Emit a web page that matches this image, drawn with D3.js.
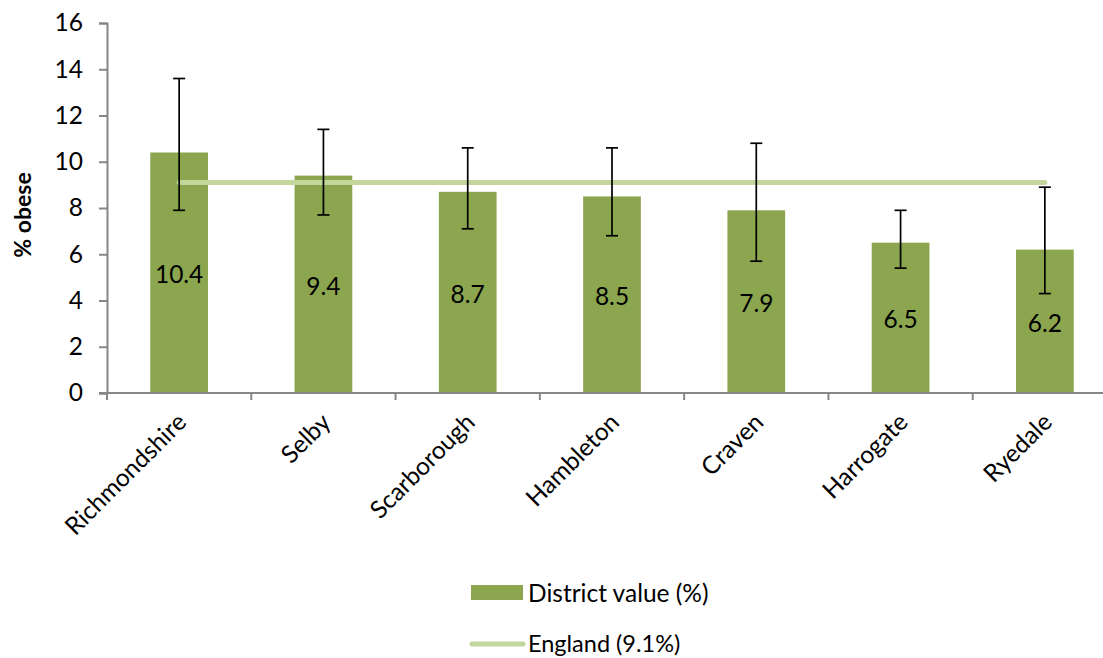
<!DOCTYPE html>
<html>
<head>
<meta charset="utf-8">
<script src="https://cdn.jsdelivr.net/npm/d3@7"></script>
<style>
  html, body { margin: 0; padding: 0; background: #fff; }
  svg text { font-family: Lato, "Open Sans", sans-serif; fill: #000; }
</style>
</head>
<body>
<svg id="chart" width="1103" height="658"></svg>
<script>
// Obesity prevalence by district, with 95% confidence intervals
const districts = ["Richmondshire", "Selby", "Scarborough", "Hambleton", "Craven", "Harrogate", "Ryedale"];
const districtValues = [10.4, 9.4, 8.7, 8.5, 7.9, 6.5, 6.2];
const lowerCI = [7.9, 7.7, 7.1, 6.8, 5.7, 5.4, 4.3];
const upperCI = [13.6, 11.4, 10.6, 10.6, 10.8, 7.9, 8.9];
const englandValue = 9.1;
const yTicks = [0, 2, 4, 6, 8, 10, 12, 14, 16];
const seriesNames = ["District value (%)", "England (9.1%)"];
const yTitle = "% obese";

const barColor = "#8ba64f";
const lineColor = "#c3d69b";
const axisColor = "#868686";
const fontSize = 24.5;

const svg = d3.select("#chart");
const plotLeft = 107, plotRight = 1117, plotTop = 23, plotBottom = 393;

const x = d3.scaleBand().domain(districts).range([plotLeft, plotRight]).paddingInner(0).paddingOuter(0);
const y = d3.scaleLinear().domain([0, 16]).range([plotBottom, plotTop]);
const barW = x.bandwidth() * 0.4;
const cx = d => x(d) + x.bandwidth() / 2;

const data = districts.map((d, i) => ({ name: d, v: districtValues[i], lo: lowerCI[i], hi: upperCI[i] }));

// Bars
svg.append("g").selectAll("rect").data(data).join("rect")
  .attr("x", d => cx(d.name) - barW / 2)
  .attr("y", d => y(d.v))
  .attr("width", barW)
  .attr("height", d => y(0) - y(d.v))
  .attr("fill", barColor);

// England benchmark line across bar centres
svg.append("line")
  .attr("x1", cx(districts[0])).attr("x2", cx(districts[districts.length - 1]))
  .attr("y1", y(englandValue)).attr("y2", y(englandValue))
  .attr("stroke", lineColor).attr("stroke-width", 5).attr("stroke-linecap", "round");

// Confidence interval whiskers
const eb = svg.append("g").attr("stroke", "#000").attr("stroke-width", 1.7);
data.forEach(d => {
  const c = cx(d.name);
  eb.append("line").attr("x1", c).attr("x2", c).attr("y1", y(d.lo)).attr("y2", y(d.hi));
  eb.append("line").attr("x1", c - 6).attr("x2", c + 6).attr("y1", y(d.lo)).attr("y2", y(d.lo));
  eb.append("line").attr("x1", c - 6).attr("x2", c + 6).attr("y1", y(d.hi)).attr("y2", y(d.hi));
});

// Value labels in the middle of each bar
svg.append("g").selectAll("text").data(data).join("text")
  .attr("x", d => cx(d.name))
  .attr("y", d => (y(0) + y(d.v)) / 2 + 1)
  .attr("text-anchor", "middle")
  .attr("dominant-baseline", "central")
  .attr("font-size", fontSize)
  .text(d => d.v.toFixed(1));

// Y axis
const yAxis = svg.append("g").attr("transform", `translate(${plotLeft},0)`)
  .call(d3.axisLeft(y).tickValues(yTicks).tickSize(8).tickPadding(16).tickFormat(d3.format("d")));
yAxis.select(".domain").attr("stroke", axisColor).attr("stroke-width", 2);
yAxis.selectAll(".tick line").attr("stroke", axisColor).attr("stroke-width", 2);
yAxis.selectAll(".tick text").attr("font-size", fontSize).attr("font-family", "Lato, sans-serif").attr("fill", "#000");

// X axis line with category boundary ticks
svg.append("line").attr("x1", plotLeft - 8).attr("x2", plotRight).attr("y1", plotBottom).attr("y2", plotBottom)
  .attr("stroke", axisColor).attr("stroke-width", 2);
const bounds = districts.map(d => x(d)).concat([plotRight]);
svg.append("g").selectAll("line").data(bounds).join("line")
  .attr("x1", d => d).attr("x2", d => d).attr("y1", plotBottom).attr("y2", plotBottom + 7)
  .attr("stroke", axisColor).attr("stroke-width", 2);

// Category labels, rotated
svg.append("g").selectAll("text").data(districts).join("text")
  .attr("transform", d => `translate(${cx(d) + 2},${plotBottom + 24}) rotate(-45)`)
  .attr("text-anchor", "end")
  .attr("dominant-baseline", "central")
  .attr("font-size", fontSize)
  .text(d => d);

// Y axis title
svg.append("text")
  .attr("transform", `translate(22,${(plotTop + plotBottom) / 2 + 7}) rotate(-90)`)
  .attr("text-anchor", "middle")
  .attr("dominant-baseline", "central")
  .attr("font-size", 23)
  .attr("font-weight", "bold")
  .text(yTitle);

// Legend
const lg = svg.append("g");
lg.append("rect").attr("x", 471).attr("y", 585).attr("width", 52).attr("height", 15).attr("fill", barColor);
lg.append("text").attr("x", 528).attr("y", 592).attr("dominant-baseline", "central").attr("font-size", fontSize).text(seriesNames[0]);
lg.append("line").attr("x1", 472).attr("x2", 523).attr("y1", 644).attr("y2", 644)
  .attr("stroke", lineColor).attr("stroke-width", 5).attr("stroke-linecap", "round");
lg.append("text").attr("x", 528).attr("y", 643).attr("dominant-baseline", "central").attr("font-size", 23.5).text(seriesNames[1]);
</script>
</body>
</html>
